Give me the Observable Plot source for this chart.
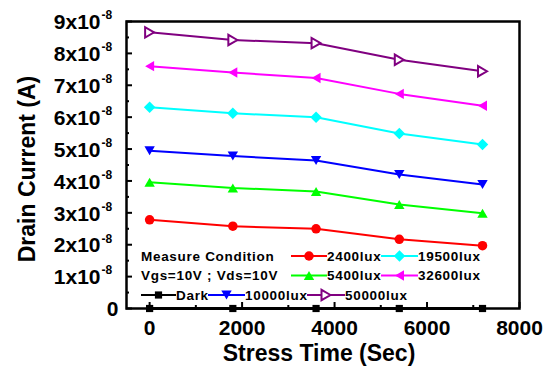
<!DOCTYPE html>
<html><head><meta charset="utf-8">
<script src="https://cdn.jsdelivr.net/npm/d3@7"></script>
<script src="https://cdn.jsdelivr.net/npm/@observablehq/plot@0.6"></script>
<style>
html,body{margin:0;padding:0;background:#fff;}
#chart svg{display:block;}
</style></head><body><div id="chart"></div>
<script>
// ---- data (drain current in amperes) ----
const stressTime = [0, 1800, 3600, 5400, 7200];
const currentDark     = [0, 0, 0, 0, 0];
const current2400lux  = [2.78e-8, 2.58e-8, 2.50e-8, 2.17e-8, 1.97e-8];
const current5400lux  = [3.96e-8, 3.78e-8, 3.67e-8, 3.26e-8, 2.99e-8];
const current10000lux = [4.95e-8, 4.78e-8, 4.64e-8, 4.20e-8, 3.89e-8];
const current19500lux = [6.31e-8, 6.12e-8, 6.00e-8, 5.49e-8, 5.14e-8];
const current32600lux = [7.60e-8, 7.40e-8, 7.23e-8, 6.73e-8, 6.36e-8];
const current50000lux = [8.66e-8, 8.42e-8, 8.32e-8, 7.80e-8, 7.44e-8];
const seriesNames = ["Dark", "2400lux", "5400lux", "10000lux", "19500lux", "32600lux", "50000lux"];
const seriesValues = [currentDark, current2400lux, current5400lux, current10000lux, current19500lux, current32600lux, current50000lux];

const xTicks = [0, 2000, 4000, 6000, 8000];
const xMinorTicks = [1000, 3000, 5000, 7000];
const yTicks = [0, 1e-8, 2e-8, 3e-8, 4e-8, 5e-8, 6e-8, 7e-8, 8e-8, 9e-8];
const yMinorTicks = [0.5e-8, 1.5e-8, 2.5e-8, 3.5e-8, 4.5e-8, 5.5e-8, 6.5e-8, 7.5e-8, 8.5e-8];
const yTickBase = ["0", "1x10", "2x10", "3x10", "4x10", "5x10", "6x10", "7x10", "8x10", "9x10"];
const yTickExp = ["", "-8", "-8", "-8", "-8", "-8", "-8", "-8", "-8", "-8"];
const xTitle = "Stress Time (Sec)";
const yTitle = "Drain Current (A)";
const legendNotes = ["Measure Condition", "Vgs=10V ; Vds=10V"];

// ---- styles ----
function sym(kind) {
  return {draw(ctx, size) {
    const s = Math.sqrt(size / Math.PI);
    if (kind === "circle") { const r = s * 0.95; ctx.moveTo(r, 0); ctx.arc(0, 0, r, 0, 2 * Math.PI); return; }
    if (kind === "square") { const h = s * 0.72; ctx.rect(-h, -h, 2 * h, 2 * h); return; }
    if (kind === "diamond") { const h = s * 1.15; ctx.moveTo(0, -h); ctx.lineTo(h, 0); ctx.lineTo(0, h); ctx.lineTo(-h, 0); ctx.closePath(); return; }
    const R = s * 1.2, a = R * Math.sqrt(3) / 2, b = R * 0.75;
    let p;
    if (kind === "up") p = [[0, -b], [a, b], [-a, b]];
    else if (kind === "down") p = [[0, b], [a, -b], [-a, -b]];
    else if (kind === "left") p = [[-b, 0], [b, -a], [b, a]];
    else p = [[b, 0], [-b, -a], [-b, a]];
    ctx.moveTo(p[0][0], p[0][1]); ctx.lineTo(p[1][0], p[1][1]); ctx.lineTo(p[2][0], p[2][1]); ctx.closePath();
  }};
}
const seriesStyle = {
  "Dark":     {color: "#000000", symbol: sym("square"), open: false},
  "2400lux":  {color: "#ff0000", symbol: sym("circle"), open: false},
  "5400lux":  {color: "#00ff00", symbol: sym("up"), open: false},
  "10000lux": {color: "#0000ff", symbol: sym("down"), open: false},
  "19500lux": {color: "#00ffff", symbol: sym("diamond"), open: false},
  "32600lux": {color: "#ff00ff", symbol: sym("left"), open: false},
  "50000lux": {color: "#800080", symbol: sym("right"), open: true}
};

const W = 553, H = 374, mL = 126, mR = 34, mT = 21, mB = 66;
const plotW = W - mL - mR, plotH = H - mT - mB;
const font = "'Liberation Sans', Arial, Helvetica, sans-serif";

const marks = [];
seriesNames.forEach((name, k) => {
  const data = stressTime.map((t, i) => ({t, v: seriesValues[k][i]}));
  const st = seriesStyle[name];
  marks.push(Plot.line(data, {x: "t", y: "v", stroke: st.color, strokeWidth: name === "Dark" ? 3 : 2}));
});
seriesNames.forEach((name, k) => {
  const data = stressTime.map((t, i) => ({t, v: seriesValues[k][i]}));
  const st = seriesStyle[name];
  marks.push(Plot.dot(data, {x: "t", y: "v", r: 5, symbol: st.symbol,
    fill: st.open ? "white" : st.color, stroke: st.open ? st.color : "none", strokeWidth: 2}));
});

const chart = Plot.plot({
  width: W, height: H, marginLeft: mL, marginRight: mR, marginTop: mT, marginBottom: mB,
  x: {domain: [-500, 8000]},
  y: {domain: [0, 9e-8], axis: null},
  style: {fontFamily: font, fontWeight: "bold", background: "white", color: "black", overflow: "visible"},
  marks: [
    ...marks,
    Plot.ruleX(xTicks, {x: d => d, insetTop: plotH - 6, stroke: "black", strokeWidth: 2}),
    Plot.ruleX(xMinorTicks, {x: d => d, insetTop: plotH - 3, stroke: "black", strokeWidth: 2}),
    Plot.ruleY(yTicks, {y: d => d, insetRight: plotW - 6, stroke: "black", strokeWidth: 2}),
    Plot.ruleY(yMinorTicks, {y: d => d, insetRight: plotW - 3, stroke: "black", strokeWidth: 2}),
    Plot.frame({stroke: "black", strokeWidth: 2.5}),
    Plot.axisX(xTicks, {tickSize: 0, tickPadding: 12, fontSize: 21, fontWeight: "bold", label: null, tickFormat: d => String(d)}),
    Plot.text(yTicks.filter((d, i) => yTickExp[i] !== ""), {y: d => d, frameAnchor: "left", text: d => yTickBase[yTicks.indexOf(d)], textAnchor: "end", dx: -26, dy: 1, fontSize: 21, fontWeight: "bold"}),
    Plot.text(yTicks.filter((d, i) => yTickExp[i] !== ""), {y: d => d, frameAnchor: "left", text: d => yTickExp[yTicks.indexOf(d)], textAnchor: "start", dx: -25, dy: -6, fontSize: 12, fontWeight: "bold"}),
    Plot.text(yTicks.filter((d, i) => yTickExp[i] === ""), {y: d => d, frameAnchor: "left", text: d => yTickBase[yTicks.indexOf(d)], textAnchor: "end", dx: -8, dy: 1, fontSize: 21, fontWeight: "bold"}),
    Plot.text([xTitle], {frameAnchor: "bottom", text: d => d, dx: -4, dy: 52, fontSize: 23, fontWeight: "bold"})
  ]
});
document.getElementById("chart").appendChild(chart);

const svg = d3.select(chart);
// y axis title (layout)
svg.append("text")
  .attr("transform", `translate(${mL - 99.5},${(mT + H - mB) / 2 + 4.5}) rotate(-90)`)
  .attr("dy", "0.36em")
  .style("font-family", font).style("font-weight", "bold").style("font-size", "23px")
  .style("text-anchor", "middle").attr("fill", "black")
  .text(yTitle);

// ---- legend (layout positions only) ----
const rowY = [256, 275.5, 295];
const legendLayout = [
  {note: 0, x: 141, row: 0},
  {name: "2400lux", x0: 291, x1: 327, row: 0},
  {name: "19500lux", x0: 381, x1: 418, row: 0},
  {note: 1, x: 141, row: 1},
  {name: "5400lux", x0: 291, x1: 327, row: 1},
  {name: "32600lux", x0: 381, x1: 418, row: 1},
  {name: "Dark", x0: 141, x1: 176, row: 2},
  {name: "10000lux", x0: 208, x1: 245, row: 2},
  {name: "50000lux", x0: 307, x1: 345, row: 2}
];
const lg = svg.append("g")
  .style("font-family", font).style("font-weight", "bold").style("font-size", "13.5px")
  .style("letter-spacing", "0.7px").style("text-anchor", "start");
legendLayout.forEach(item => {
  const y = rowY[item.row];
  if (item.note !== undefined) {
    lg.append("text").attr("x", item.x).attr("y", y).attr("dy", "0.36em").attr("fill", "black").text(legendNotes[item.note]);
    return;
  }
  const st = seriesStyle[item.name];
  lg.append("line").attr("x1", item.x0).attr("x2", item.x1).attr("y1", y).attr("y2", y).attr("stroke", st.color).attr("stroke-width", 2);
  lg.append("path").attr("transform", `translate(${(item.x0 + item.x1) / 2},${y})`)
    .attr("d", d3.symbol(st.symbol, Math.PI * 25)())
    .attr("fill", st.open ? "white" : st.color).attr("stroke", st.open ? st.color : "none").attr("stroke-width", 2);
  lg.append("text").attr("x", item.x1).attr("y", y).attr("dy", "0.36em").attr("fill", "black").text(item.name);
});
</script></body></html>
